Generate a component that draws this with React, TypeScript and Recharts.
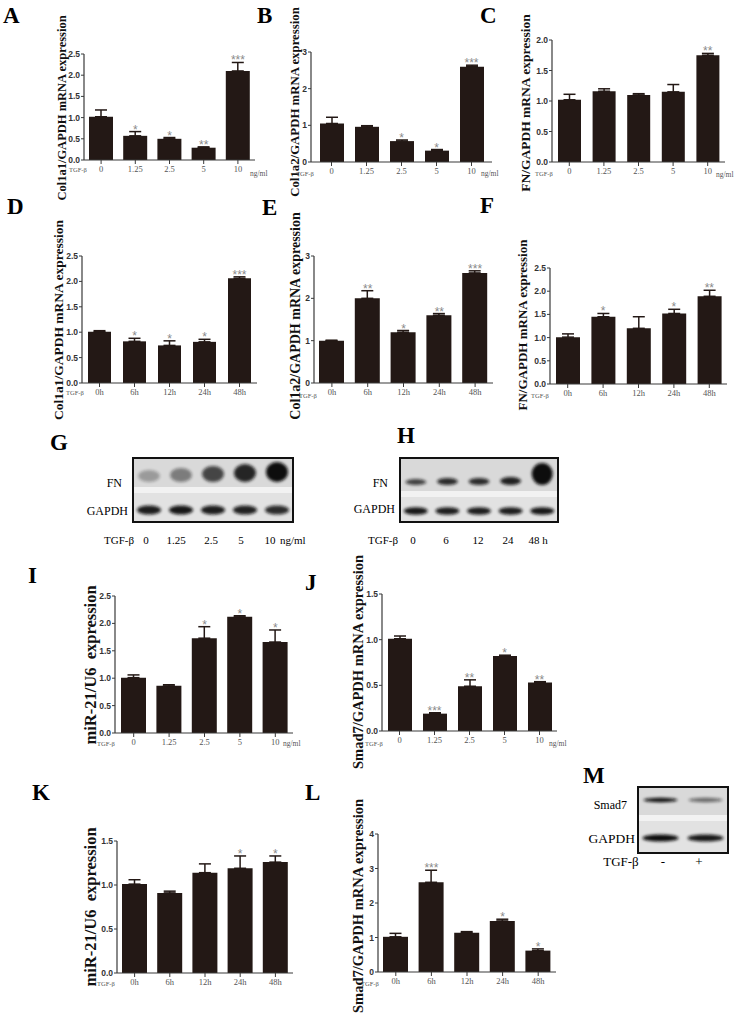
import { Bar, ComposedChart, ErrorBar, Line, XAxis, YAxis } from 'recharts'

// categories
const doseCats = ['0', '1.25', '2.5', '5', '10']
const timeCats = ['0h', '6h', '12h', '24h', '48h']

// A - Col1a1 by dose
const col1a1Dose = [1.02, 0.57, 0.5, 0.29, 2.1]
const col1a1DoseErr = [0.16, 0.1, 0.03, 0.02, 0.2]
const col1a1DoseSig = ['', '*', '*', '**', '***']
// B - Col1a2 by dose
const col1a2Dose = [1.05, 0.96, 0.57, 0.31, 2.6]
const col1a2DoseErr = [0.17, 0.03, 0.03, 0.03, 0.04]
const col1a2DoseSig = ['', '', '*', '*', '***']
// C - FN by dose
const fnDose = [1.02, 1.16, 1.1, 1.15, 1.75]
const fnDoseErr = [0.09, 0.04, 0.02, 0.12, 0.03]
const fnDoseSig = ['', '', '', '', '**']
// D - Col1a1 by time
const col1a1Time = [1.01, 0.82, 0.74, 0.81, 2.06]
const col1a1TimeErr = [0.02, 0.06, 0.09, 0.05, 0.03]
const col1a1TimeSig = ['', '*', '*', '*', '***']
// E - Col1a2 by time
const col1a2Time = [1.0, 2.0, 1.2, 1.6, 2.6]
const col1a2TimeErr = [0.01, 0.18, 0.04, 0.04, 0.05]
const col1a2TimeSig = ['', '**', '*', '**', '***']
// F - FN by time
const fnTime = [1.01, 1.45, 1.2, 1.52, 1.89]
const fnTimeErr = [0.07, 0.07, 0.25, 0.09, 0.13]
const fnTimeSig = ['', '*', '', '*', '**']
// I - miR-21 by dose
const mirDose = [1.01, 0.86, 1.73, 2.12, 1.66]
const mirDoseErr = [0.05, 0.02, 0.21, 0.02, 0.22]
const mirDoseSig = ['', '', '*', '*', '*']
// J - Smad7 by dose
const smadDose = [1.01, 0.19, 0.49, 0.82, 0.53]
const smadDoseErr = [0.03, 0.01, 0.07, 0.01, 0.01]
const smadDoseSig = ['', '***', '**', '*', '**']
// K - miR-21 by time
const mirTime = [1.01, 0.91, 1.14, 1.19, 1.26]
const mirTimeErr = [0.05, 0.02, 0.1, 0.14, 0.07]
const mirTimeSig = ['', '', '', '*', '*']
// L - Smad7 by time
const smadTime = [1.02, 2.6, 1.14, 1.48, 0.62]
const smadTimeErr = [0.1, 0.35, 0.03, 0.05, 0.05]
const smadTimeSig = ['', '***', '', '*', '*']

// western blot band intensities (0..1)
const gFN = [0.3, 0.45, 0.72, 0.88, 1]
const gGAPDH = [0.92, 0.95, 0.92, 0.9, 0.85]
const hFN = [0.75, 0.85, 0.85, 0.9, 1]
const hGAPDH = [0.95, 0.92, 0.92, 0.92, 0.95]
const mSmad7 = [1, 0.55]
const mGAPDH = [1, 0.95]

const BAR = '#231815'
const AXIS = '#3a3a3a'
const SERIF = '"Liberation Serif", "Times New Roman", serif'
const SANS = '"Liberation Sans", Arial, sans-serif'

function Stars(props: any) {
  const { cx, cy, payload, index } = props
  if (!payload || !payload.s) return <g key={`n${index}`} />
  return (
    <text key={`s${index}`} x={cx} y={cy + 2} textAnchor="middle" fontSize={12}
      fill="#8a8a8a" fontFamily={SANS}>{payload.s}</text>
  )
}

type PanelProps = {
  cats: string[]; vals: number[]; errs: number[]; sig: string[]
  ticks: number[]; dec: number
  axisX: number; axisEnd: number; top: number; bottom: number
  barSize: number; padL?: number; padR?: number
}

function BarPanel(p: PanelProps) {
  const data = p.cats.map((c, i) => ({
    cat: c, v: p.vals[i], e: [0, p.errs[i]], top: p.vals[i] + p.errs[i], s: p.sig[i],
  }))
  const yW = 40
  const mT = 20
  const xH = 24
  const w = p.axisEnd - p.axisX + yW + 1
  const h = p.bottom - p.top + mT + xH
  const max = p.ticks[p.ticks.length - 1]
  return (
    <div style={{ position: 'absolute', left: p.axisX - yW, top: p.top - mT }}>
      <ComposedChart width={w} height={h} data={data} barSize={p.barSize}
        margin={{ top: mT, right: 1, bottom: 0, left: 0 }}>
        <XAxis dataKey="cat" height={xH} interval={0} tickSize={4}
          padding={{ left: p.padL ?? 0, right: p.padR ?? 0 }}
          axisLine={{ stroke: AXIS, strokeWidth: 1.2 }} tickLine={{ stroke: AXIS }}
          tick={{ fontSize: 8.5, fill: '#555', fontFamily: SERIF }} />
        <YAxis width={yW} domain={[0, max]} ticks={p.ticks} interval={0} tickSize={3}
          tickMargin={1} tickFormatter={(v: number) => v.toFixed(p.dec)}
          axisLine={{ stroke: AXIS, strokeWidth: 1.2 }} tickLine={{ stroke: AXIS }}
          tick={{ fontSize: 8.5, fill: '#333', fontWeight: 'bold', fontFamily: SANS }} />
        <Bar dataKey="v" fill={BAR} isAnimationActive={false}>
          <ErrorBar dataKey="e" width={6} stroke={BAR} strokeWidth={1.5} direction="y" />
        </Bar>
        <Line dataKey="top" stroke="none" isAnimationActive={false} dot={Stars}
          activeDot={false} legendType="none" />
      </ComposedChart>
    </div>
  )
}

const half = [0, 0.5, 1, 1.5, 2, 2.5]

function Blot({ x, y, w, h, lanes, split, rows }: any) {
  const lw = w / lanes
  return (
    <g>
      <rect x={x} y={y} width={w} height={split - y} fill="#d9d9d9" />
      <rect x={x} y={split} width={w} height={6} fill="#f2f2f2" />
      <rect x={x} y={split + 6} width={w} height={y + h - split - 6} fill="#e2e2e2" />
      {rows.map((r: any, ri: number) =>
        r.vals.map((v: number, i: number) => (
          <ellipse key={`${ri}-${i}`} cx={x + lw * (i + 0.5)} cy={r.cy - (r.grow ? r.grow[i] / 2 : 0)}
            rx={r.rx} ry={r.ry + (r.grow ? r.grow[i] / 2 : 0)}
            fill="#111" opacity={v} filter="url(#blur)" />
        ))
      )}
      <rect x={x} y={y} width={w} height={h} fill="none" stroke="#111" strokeWidth={2} />
    </g>
  )
}

export default function App() {
  const letters: [string, number, number][] = [
    ['A', 3, 23], ['B', 257, 23], ['C', 480, 23], ['D', 7, 214], ['E', 262, 215], ['F', 480, 213],
    ['G', 50, 450], ['H', 397, 443], ['I', 28, 583], ['J', 305, 590], ['K', 32, 800], ['L', 305, 800], ['M', 583, 783],
  ]
  const titles: [string, number, number, number][] = [
    ['Col1a1/GAPDH mRNA expression', 62, 108, 12.5],
    ['Col1a2/GAPDH mRNA expression', 295, 102, 12.8],
    ['FN/GAPDH mRNA expression', 525, 103, 13.5],
    ['Col1a1/GAPDH mRNA expression', 58, 320, 13.5],
    ['Col1a2/GAPDH mRNA expression', 295, 316, 14],
    ['FN/GAPDH mRNA expression', 522, 325, 13],
    ['miR-21/U6  expression', 90, 665, 16.5],
    ['Smad7/GAPDH mRNA expression', 358, 662, 14.5],
    ['miR-21/U6  expression', 90, 907, 16.5],
    ['Smad7/GAPDH mRNA expression', 358, 906, 14.5],
  ]
  const tgf: [number, number][] = [
    [69, 169], [296, 173], [535, 173], [66, 392], [299, 395], [531, 395],
    [97, 743], [365, 743], [97, 983], [361, 983],
  ]
  const units: [number, number][] = [[250, 173], [481, 173], [716, 174], [283, 743], [549, 743]]

  return (
    <div style={{ position: 'absolute', left: 0, top: 0, width: 738, height: 1017, background: '#fff' }}>
      <BarPanel cats={doseCats} vals={col1a1Dose} errs={col1a1DoseErr} sig={col1a1DoseSig}
        ticks={half} dec={1} axisX={84} axisEnd={255} top={54} bottom={160} barSize={24} />
      <BarPanel cats={doseCats} vals={col1a2Dose} errs={col1a2DoseErr} sig={col1a2DoseSig}
        ticks={[0, 1, 2, 3]} dec={0} axisX={311} axisEnd={492} padL={3} padR={3} top={52} bottom={162} barSize={24} />
      <BarPanel cats={doseCats} vals={fnDose} errs={fnDoseErr} sig={fnDoseSig}
        ticks={[0, 0.5, 1, 1.5, 2]} dec={1} axisX={552} axisEnd={725} top={40} bottom={162} barSize={23} />
      <BarPanel cats={timeCats} vals={col1a1Time} errs={col1a1TimeErr} sig={col1a1TimeSig}
        ticks={half} dec={1} axisX={82} axisEnd={257} top={256} bottom={383} barSize={23} />
      <BarPanel cats={timeCats} vals={col1a2Time} errs={col1a2TimeErr} sig={col1a2TimeSig}
        ticks={[0, 1, 2, 3]} dec={0} axisX={314} axisEnd={493} top={256} bottom={383} barSize={25} />
      <BarPanel cats={timeCats} vals={fnTime} errs={fnTimeErr} sig={fnTimeSig}
        ticks={half} dec={1} axisX={550} axisEnd={727} top={268} bottom={384} barSize={24} />
      <BarPanel cats={doseCats} vals={mirDose} errs={mirDoseErr} sig={mirDoseSig}
        ticks={half} dec={1} axisX={115} axisEnd={293} padL={1} top={596} bottom={733} barSize={25} />
      <BarPanel cats={doseCats} vals={smadDose} errs={smadDoseErr} sig={smadDoseSig}
        ticks={[0, 0.5, 1, 1.5]} dec={1} axisX={382} axisEnd={557} top={594} bottom={731} barSize={24} />
      <BarPanel cats={timeCats} vals={mirTime} errs={mirTimeErr} sig={mirTimeSig}
        ticks={[0, 0.5, 1, 1.5]} dec={1} axisX={117} axisEnd={293} top={841} bottom={973} barSize={25} />
      <BarPanel cats={timeCats} vals={smadTime} errs={smadTimeErr} sig={smadTimeSig}
        ticks={[0, 1, 2, 3, 4]} dec={0} axisX={378} axisEnd={556} top={834} bottom={972} barSize={25} />

      <svg width={738} height={1017} style={{ position: 'absolute', left: 0, top: 0, pointerEvents: 'none' }}>
        <defs>
          <filter id="blur" x="-50%" y="-50%" width="200%" height="200%">
            <feGaussianBlur stdDeviation="1.6" />
          </filter>
        </defs>
        {letters.map(([t, x, y]) => (
          <text key={t} x={x} y={y} fontFamily={SERIF} fontWeight="bold" fontSize={23} fill="#000">{t}</text>
        ))}
        {titles.map(([t, cx, cy, fs], i) => (
          <text key={i} transform={`translate(${cx},${cy}) rotate(-90)`} textAnchor="middle"
            dominantBaseline="central" fontFamily={SERIF} fontWeight="bold" fontSize={fs} fill="#111"
            style={{ whiteSpace: 'pre' }}>{t}</text>
        ))}
        {tgf.map(([x, y], i) => (
          <text key={i} x={x} y={y} dominantBaseline="central" fontFamily={SERIF} fontSize={6.5} fill="#555">TGF-β</text>
        ))}
        {units.map(([x, y], i) => (
          <text key={i} x={x} y={y} dominantBaseline="central" fontFamily={SERIF} fontSize={7.5} fill="#555">ng/ml</text>
        ))}

        {/* G */}
        <Blot x={133} y={458} w={160} h={64} lanes={5} split={487}
          rows={[
            { vals: gFN, cy: 476, rx: 11, ry: 6, grow: [0, 2, 4, 6, 8] },
            { vals: gGAPDH, cy: 510, rx: 12, ry: 4.5 },
          ]} />
        <text x={122} y={487} textAnchor="end" fontFamily={SERIF} fontSize={12}>FN</text>
        <text x={128} y={515} textAnchor="end" fontFamily={SERIF} fontSize={12}>GAPDH</text>
        <g fontFamily={SERIF} fontSize={11} textAnchor="middle">
          <text x={119} y={544}>TGF-β</text>
          <text x={146} y={544}>0</text>
          <text x={176} y={544}>1.25</text>
          <text x={211} y={544}>2.5</text>
          <text x={241} y={544}>5</text>
          <text x={270} y={544}>10</text>
          <text x={280} y={544} textAnchor="start">ng/ml</text>
        </g>

        {/* H */}
        <Blot x={400} y={458} w={158} h={64} lanes={5} split={491}
          rows={[
            { vals: hFN, cy: 482, rx: 10.5, ry: 3, grow: [0, 1, 1, 2, 16] },
            { vals: hGAPDH, cy: 511, rx: 12, ry: 3.8 },
          ]} />
        <text x={388} y={487} textAnchor="end" fontFamily={SERIF} fontSize={12}>FN</text>
        <text x={395} y={513} textAnchor="end" fontFamily={SERIF} fontSize={12}>GAPDH</text>
        <g fontFamily={SERIF} fontSize={11} textAnchor="middle">
          <text x={383} y={544}>TGF-β</text>
          <text x={413} y={544}>0</text>
          <text x={446} y={544}>6</text>
          <text x={478} y={544}>12</text>
          <text x={508} y={544}>24</text>
          <text x={538} y={544}>48 h</text>
        </g>

        {/* M */}
        <Blot x={638} y={787} w={90} h={66} lanes={2} split={815}
          rows={[
            { vals: mSmad7, cy: 800, rx: 17, ry: 2.2 },
            { vals: mGAPDH, cy: 838, rx: 18, ry: 3.6 },
          ]} />
        <text x={627} y={809} textAnchor="end" fontFamily={SERIF} fontSize={12}>Smad7</text>
        <text x={635} y={843} textAnchor="end" fontFamily={SERIF} fontSize={13.5}>GAPDH</text>
        <g fontFamily={SERIF} fontSize={13} textAnchor="middle">
          <text x={621} y={866}>TGF-β</text>
          <text x={663} y={866}>-</text>
          <text x={699} y={866}>+</text>
        </g>
      </svg>
    </div>
  )
}
